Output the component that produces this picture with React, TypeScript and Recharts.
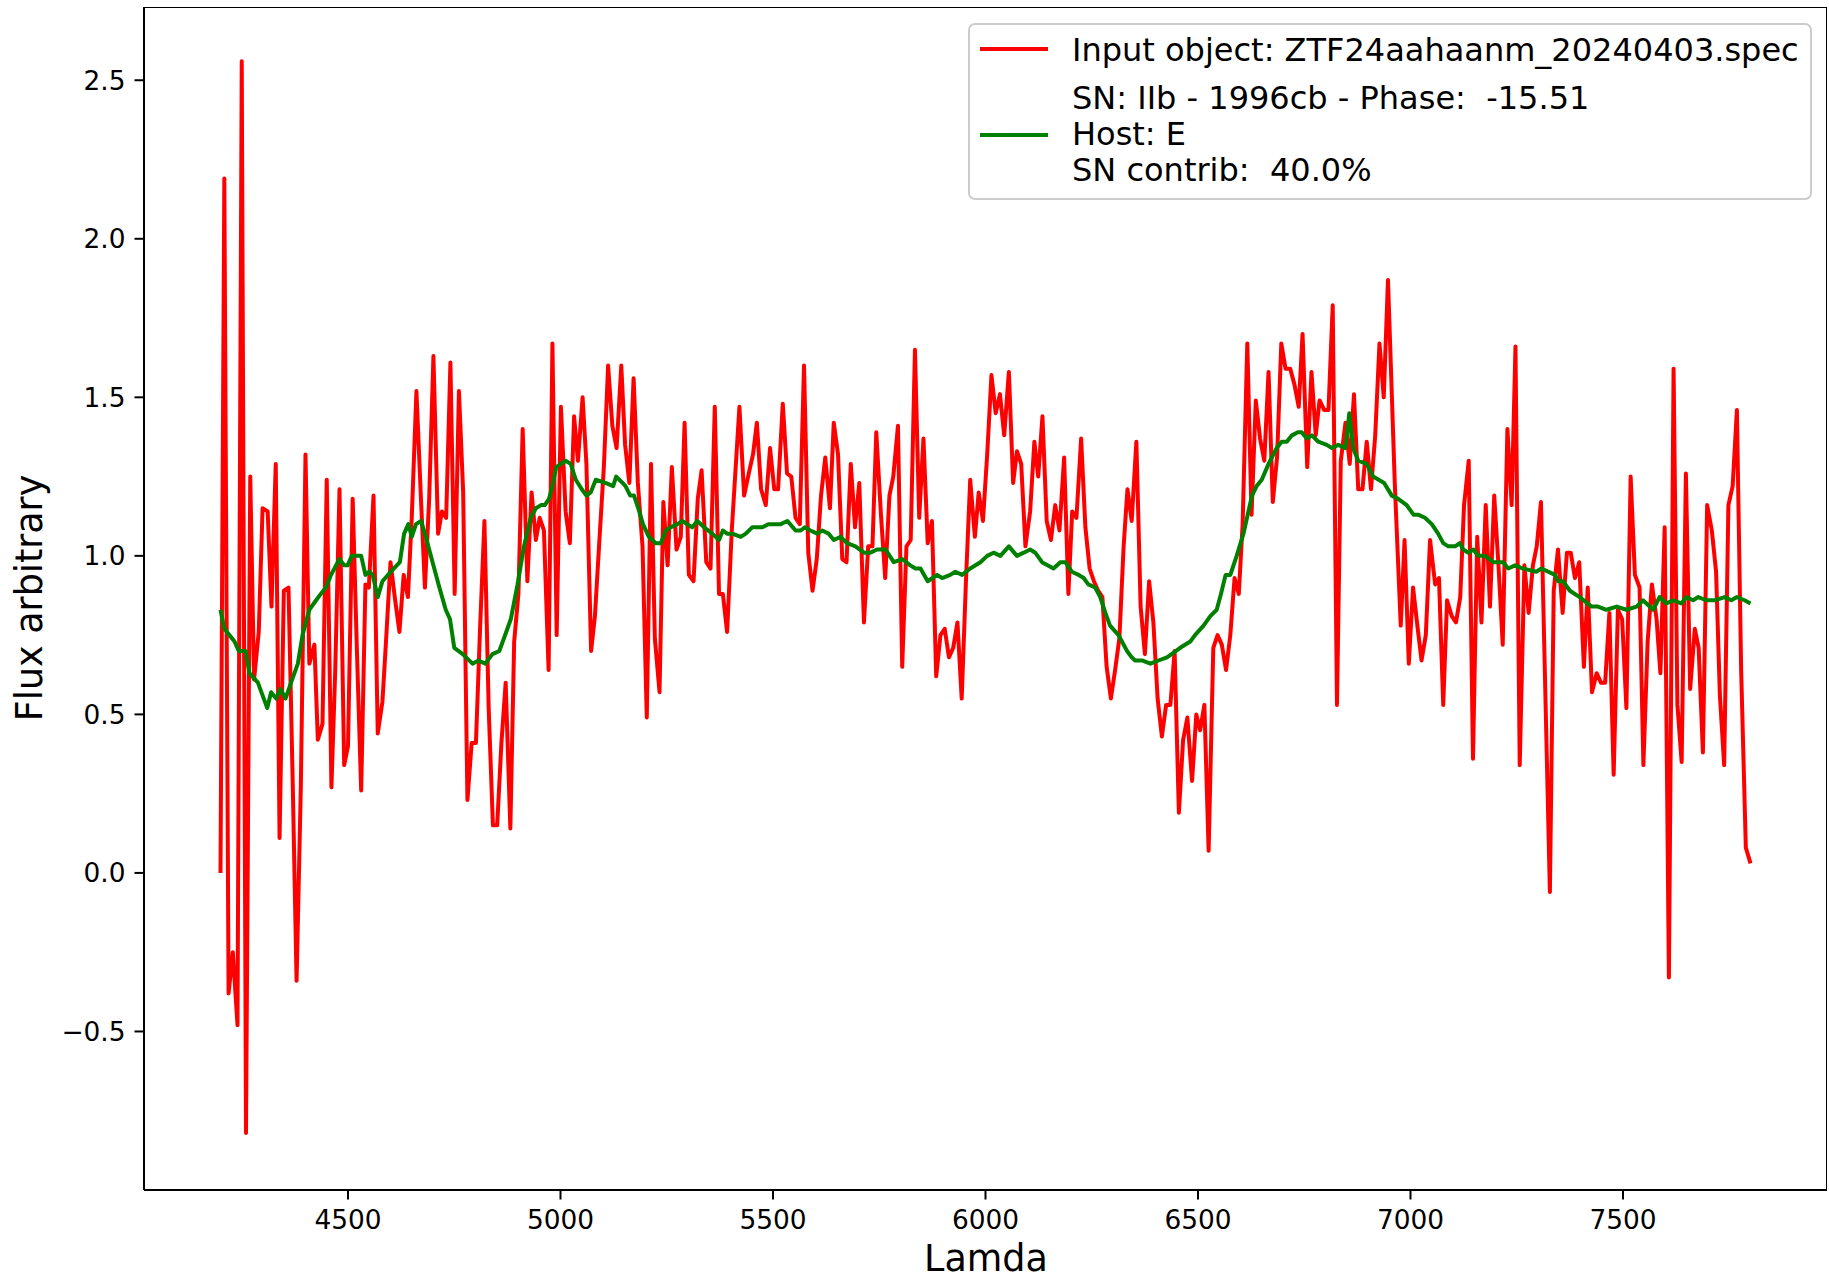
import React from 'react';
import { LineChart, Line, XAxis, YAxis, Legend, Label, ReferenceArea } from 'recharts';

// ---- data ----
const redWave = [
  4200, 4209, 4219, 4229, 4240, 4250, 4260, 4270, 4279, 4290, 4299, 4311, 4320, 4330, 4339, 4349, 4360, 4370, 4379, 4389,
  4400, 4409, 4421, 4429, 4440, 4450, 4461, 4470, 4480, 4491, 4500, 4511, 4521, 4531, 4541, 4549, 4560, 4570, 4581, 4589,
  4600, 4610, 4621, 4631, 4641, 4650, 4661, 4671, 4681, 4691, 4701, 4712, 4721, 4731, 4741, 4751, 4761, 4771, 4781, 4791,
  4801, 4811, 4821, 4831, 4841, 4851, 4861, 4871, 4882, 4891, 4901, 4911, 4922, 4932, 4942, 4951, 4961, 4972, 4981, 4991,
  5001, 5012, 5022, 5032, 5041, 5052, 5061, 5072, 5081, 5092, 5102, 5112, 5122, 5132, 5143, 5152, 5162, 5172, 5182, 5193,
  5203, 5213, 5222, 5233, 5242, 5252, 5262, 5273, 5283, 5292, 5302, 5313, 5323, 5332, 5343, 5353, 5363, 5373, 5382, 5392,
  5403, 5421, 5432, 5443, 5453, 5462, 5472, 5483, 5493, 5503, 5512, 5523, 5533, 5543, 5553, 5563, 5573, 5583, 5593, 5603,
  5613, 5623, 5634, 5643, 5653, 5663, 5673, 5683, 5693, 5703, 5714, 5724, 5734, 5743, 5754, 5764, 5774, 5783, 5794, 5804,
  5814, 5824, 5834, 5844, 5854, 5864, 5874, 5884, 5894, 5904, 5914, 5924, 5934, 5944, 5954, 5964, 5975, 5984, 5994, 6004,
  6014, 6024, 6034, 6044, 6055, 6065, 6074, 6084, 6094, 6105, 6115, 6124, 6134, 6144, 6154, 6164, 6174, 6185, 6195, 6204,
  6214, 6225, 6235, 6245, 6255, 6265, 6275, 6285, 6295, 6305, 6315, 6325, 6334, 6344, 6355, 6365, 6375, 6385, 6395, 6405,
  6415, 6425, 6435, 6445, 6455, 6465, 6475, 6486, 6496, 6505, 6515, 6525, 6536, 6546, 6556, 6566, 6576, 6586, 6596, 6605,
  6616, 6626, 6636, 6646, 6656, 6666, 6676, 6686, 6696, 6706, 6717, 6727, 6737, 6746, 6757, 6767, 6777, 6786, 6797, 6807,
  6817, 6827, 6836, 6847, 6857, 6867, 6877, 6887, 6897, 6907, 6917, 6927, 6937, 6947, 6963, 6977, 6986, 6996, 7006, 7017,
  7026, 7036, 7046, 7058, 7067, 7077, 7086, 7097, 7107, 7117, 7126, 7137, 7147, 7157, 7167, 7177, 7187, 7197, 7207, 7217,
  7228, 7238, 7247, 7257, 7268, 7278, 7288, 7297, 7307, 7328, 7337, 7347, 7358, 7368, 7377, 7387, 7397, 7408, 7417, 7427,
  7438, 7448, 7458, 7468, 7478, 7488, 7498, 7508, 7518, 7528, 7539, 7548, 7558, 7568, 7579, 7588, 7598, 7608, 7619, 7628,
  7638, 7648, 7658, 7669, 7678, 7688, 7698, 7709, 7719, 7728, 7738, 7748, 7758, 7768, 7778, 7789, 7800,
];
const redFlux = [
  0.0, 2.19, -0.38, -0.25, -0.48, 2.56, -0.82, 1.25, 0.61, 0.76, 1.15, 1.14, 0.84, 1.29, 0.11, 0.89, 0.9, 0.28, -0.34, 0.27,
  1.32, 0.66, 0.72, 0.42, 0.47, 1.24, 0.27, 0.64, 1.21, 0.34, 0.4, 1.18, 0.7, 0.26, 0.91, 0.9, 1.19, 0.44, 0.54, 0.72,
  0.98, 0.87, 0.76, 0.94, 0.87, 1.12, 1.52, 1.2, 0.9, 1.18, 1.63, 1.07, 1.14, 1.12, 1.61, 0.88, 1.52, 1.2, 0.23, 0.41,
  0.41, 0.78, 1.11, 0.52, 0.15, 0.15, 0.41, 0.6, 0.14, 0.73, 0.88, 1.4, 0.92, 1.2, 1.05, 1.12, 1.08, 0.64, 1.67, 0.75,
  1.47, 1.14, 1.04, 1.44, 1.3, 1.5, 1.29, 0.7, 0.81, 1.06, 1.28, 1.6, 1.41, 1.34, 1.6, 1.35, 1.23, 1.56, 1.23, 1.03,
  0.49, 1.29, 0.74, 0.57, 1.17, 0.97, 1.28, 1.02, 1.06, 1.42, 0.94, 0.92, 1.18, 1.27, 0.98, 0.96, 1.47, 0.88, 0.88, 0.76,
  1.08, 1.47, 1.19, 1.26, 1.32, 1.42, 1.21, 1.16, 1.34, 1.21, 1.21, 1.48, 1.26, 1.25, 1.12, 1.1, 1.6, 1.01, 0.89, 0.99,
  1.19, 1.31, 1.15, 1.42, 1.32, 0.99, 0.98, 1.29, 1.09, 1.23, 0.79, 1.03, 1.03, 1.39, 1.13, 0.93, 1.19, 1.25, 1.41, 0.65,
  1.03, 1.05, 1.65, 1.12, 1.37, 1.04, 1.11, 0.62, 0.75, 0.77, 0.68, 0.71, 0.79, 0.55, 0.92, 1.24, 1.06, 1.2, 1.11, 1.32,
  1.57, 1.45, 1.51, 1.38, 1.58, 1.23, 1.33, 1.29, 1.03, 1.14, 1.36, 1.25, 1.44, 1.11, 1.05, 1.16, 1.08, 1.31, 0.88, 1.14,
  1.12, 1.37, 1.09, 0.96, 0.92, 0.89, 0.87, 0.65, 0.55, 0.64, 0.74, 1.03, 1.21, 1.11, 1.36, 0.84, 0.69, 0.92, 0.79, 0.55,
  0.43, 0.53, 0.53, 0.7, 0.19, 0.42, 0.49, 0.29, 0.5, 0.45, 0.53, 0.07, 0.71, 0.75, 0.72, 0.64, 0.75, 0.93, 0.88, 1.1,
  1.67, 1.13, 1.49, 1.37, 1.3, 1.58, 1.17, 1.31, 1.67, 1.59, 1.59, 1.54, 1.47, 1.7, 1.28, 1.58, 1.38, 1.49, 1.46, 1.46,
  1.79, 0.53, 1.3, 1.42, 1.29, 1.51, 1.21, 1.21, 1.36, 1.21, 1.38, 1.67, 1.5, 1.87, 1.23, 0.78, 1.05, 0.66, 0.9, 0.77,
  0.67, 0.75, 1.05, 0.91, 0.93, 0.53, 0.86, 0.81, 0.79, 0.87, 1.16, 1.3, 0.36, 1.06, 0.79, 1.16, 0.84, 1.19, 0.97, 0.72,
  1.4, 1.16, 1.66, 0.34, 0.97, 0.82, 0.97, 1.03, 1.17, -0.06, 0.89, 1.02, 0.82, 1.01, 1.01, 0.93, 0.98, 0.65, 0.9, 0.57,
  0.63, 0.6, 0.6, 0.82, 0.31, 0.83, 0.8, 0.52, 1.25, 0.94, 0.9, 0.34, 0.73, 0.91, 0.8, 0.63, 1.09, -0.33, 1.59, 0.53,
  0.35, 1.26, 0.58, 0.77, 0.71, 0.38, 1.16, 1.08, 0.95, 0.56, 0.34, 1.16, 1.22, 1.46, 0.64, 0.08, 0.03,
];
const greenWave = [
  4200, 4209, 4221, 4233, 4243, 4259, 4268, 4288, 4299, 4310, 4319, 4331, 4341, 4353, 4366, 4382, 4393, 4409, 4425, 4436,
  4448, 4460, 4480, 4491, 4499, 4509, 4531, 4541, 4550, 4558, 4570, 4581, 4601, 4622, 4632, 4642, 4650, 4660, 4672, 4683,
  4699, 4715, 4730, 4740, 4750, 4770, 4793, 4807, 4823, 4840, 4856, 4867, 4883, 4899, 4914, 4930, 4942, 4954, 4963, 4973,
  4981, 4990, 5001, 5012, 5024, 5036, 5050, 5061, 5071, 5083, 5106, 5124, 5131, 5146, 5153, 5164, 5173, 5183, 5194, 5208,
  5224, 5236, 5248, 5259, 5275, 5287, 5298, 5310, 5322, 5338, 5357, 5373, 5382, 5392, 5404, 5424, 5436, 5451, 5463, 5475,
  5489, 5502, 5518, 5534, 5553, 5565, 5575, 5588, 5604, 5616, 5631, 5643, 5659, 5674, 5694, 5714, 5729, 5745, 5765, 5784,
  5804, 5823, 5835, 5847, 5864, 5886, 5898, 5917, 5929, 5945, 5964, 5988, 6004, 6019, 6035, 6055, 6074, 6090, 6105, 6117,
  6133, 6160, 6176, 6188, 6203, 6219, 6231, 6242, 6258, 6270, 6282, 6293, 6313, 6333, 6344, 6352, 6368, 6388, 6407, 6427,
  6438, 6458, 6482, 6493, 6513, 6529, 6544, 6554, 6565, 6576, 6591, 6607, 6627, 6638, 6650, 6666, 6685, 6697, 6709, 6721,
  6735, 6744, 6756, 6768, 6783, 6803, 6815, 6830, 6847, 6856, 6865, 6877, 6897, 6912, 6938, 6956, 6971, 6991, 7007, 7018,
  7034, 7050, 7065, 7077, 7089, 7105, 7116, 7124, 7136, 7148, 7159, 7175, 7195, 7218, 7230, 7246, 7265, 7296, 7308, 7340,
  7347, 7359, 7375, 7398, 7426, 7441, 7461, 7485, 7508, 7532, 7547, 7571, 7586, 7602, 7618, 7637, 7649, 7665, 7677, 7696,
  7716, 7739, 7755, 7768, 7786, 7800,
];
const greenFlux = [
  0.83, 0.77, 0.75, 0.73, 0.7, 0.7, 0.63, 0.6, 0.56, 0.52, 0.57, 0.55, 0.58, 0.55, 0.6, 0.66, 0.75, 0.83, 0.86, 0.88,
  0.9, 0.94, 0.99, 0.97, 0.97, 1.0, 1.0, 0.94, 0.95, 0.94, 0.87, 0.92, 0.95, 0.98, 1.07, 1.1, 1.06, 1.1, 1.11, 1.06,
  0.98, 0.9, 0.83, 0.8, 0.71, 0.69, 0.66, 0.67, 0.66, 0.69, 0.7, 0.74, 0.8, 0.91, 1.03, 1.12, 1.15, 1.16, 1.16, 1.18,
  1.22, 1.28, 1.29, 1.3, 1.29, 1.24, 1.21, 1.19, 1.2, 1.24, 1.23, 1.22, 1.25, 1.23, 1.22, 1.19, 1.19, 1.15, 1.1, 1.06,
  1.04, 1.04, 1.08, 1.09, 1.1, 1.11, 1.1, 1.09, 1.11, 1.09, 1.07, 1.05, 1.08, 1.07, 1.07, 1.06, 1.07, 1.09, 1.09, 1.09,
  1.1, 1.1, 1.1, 1.11, 1.08, 1.08, 1.09, 1.08, 1.07, 1.08, 1.07, 1.05, 1.06, 1.04, 1.03, 1.01, 1.01, 1.02, 1.02, 0.98,
  0.99, 0.97, 0.96, 0.96, 0.92, 0.94, 0.93, 0.94, 0.95, 0.94, 0.96, 0.98, 1.0, 1.01, 1.0, 1.03, 1.0, 1.01, 1.02, 1.01,
  0.98, 0.96, 0.98, 0.98, 0.95, 0.94, 0.93, 0.91, 0.9, 0.87, 0.82, 0.78, 0.75, 0.7, 0.68, 0.67, 0.67, 0.66, 0.67, 0.68,
  0.69, 0.71, 0.73, 0.75, 0.78, 0.81, 0.83, 0.88, 0.94, 0.94, 1.0, 1.07, 1.19, 1.22, 1.24, 1.29, 1.34, 1.36, 1.36, 1.38,
  1.39, 1.39, 1.37, 1.38, 1.36, 1.35, 1.34, 1.35, 1.34, 1.45, 1.34, 1.3, 1.29, 1.25, 1.23, 1.19, 1.18, 1.16, 1.13, 1.13,
  1.12, 1.1, 1.07, 1.04, 1.03, 1.03, 1.04, 1.02, 1.01, 1.02, 1.0, 1.0, 0.98, 0.98, 0.96, 0.97, 0.96, 0.95, 0.96, 0.94,
  0.92, 0.92, 0.89, 0.87, 0.84, 0.84, 0.83, 0.84, 0.83, 0.84, 0.86, 0.83, 0.87, 0.85, 0.86, 0.85, 0.87, 0.86, 0.87, 0.86,
  0.86, 0.87, 0.86, 0.87, 0.86, 0.85,
];

const xTicks = [4500, 5000, 5500, 6000, 6500, 7000, 7500];
const yTicks = [-0.5, 0, 0.5, 1, 1.5, 2, 2.5];
const xDomain = [4020, 7980];
const yDomain = [-1.0, 2.731];
const xLabelText = 'Lamda';
const yLabelText = 'Flux arbitrary';
const inputLabel = 'Input object: ZTF24aahaanm_20240403.spec';
const templateLabelLines = ['SN: IIb - 1996cb - Phase:  -15.51', 'Host: E', 'SN contrib:  40.0%'];

const redData = redWave.map((x, i) => ({ x, y: redFlux[i] }));
const greenData = greenWave.map((x, i) => ({ x, y: greenFlux[i] }));

const FONT = '"DejaVu Sans", sans-serif';
const W = 1829;
const H = 1279;

const fmtY = (v: number) => {
  const s = Math.abs(v).toFixed(1);
  return v < 0 ? '\u2212' + s : s;
};

const LegendBox = () => (
  <svg width={845} height={178} style={{ display: 'block', overflow: 'visible' }}>
    <rect x={1} y={1} width={842} height={175} rx={6} ry={6} fill="#ffffff" fillOpacity={0.8} stroke="#cccccc" strokeWidth={2} />
    <line x1={12} x2={80} y1={26} y2={26} stroke="#ff0000" strokeWidth={4} />
    <text x={104} y={38} fontSize={32} fontFamily={FONT} fill="#000" style={{ whiteSpace: 'pre' }}>
      {inputLabel}
    </text>
    <line x1={12} x2={80} y1={112} y2={112} stroke="#008000" strokeWidth={4} />
    {templateLabelLines.map((t, i) => (
      <text key={i} x={104} y={86 + i * 36} fontSize={32} fontFamily={FONT} fill="#000" style={{ whiteSpace: 'pre' }}>
        {t}
      </text>
    ))}
  </svg>
);

export default function App() {
  return (
    <div style={{ position: 'absolute', left: 0, top: 0, width: W, height: H, background: '#fff' }}>
      <LineChart width={W} height={H} margin={{ top: 7, right: 2, bottom: 0, left: 0 }}>
        <XAxis
          type="number"
          dataKey="x"
          domain={xDomain}
          ticks={xTicks}
          allowDataOverflow
          height={89}
          tickSize={9.5}
          tickMargin={11}
          axisLine={{ stroke: '#000', strokeWidth: 2 }}
          tickLine={{ stroke: '#000', strokeWidth: 2 }}
          tick={{ fill: '#000', fontSize: 26.4, fontFamily: FONT }}
          interval={0}
        >
          <Label
            content={() => (
              <text x={986} y={1271} textAnchor="middle" fontSize={36.5} fontFamily={FONT} fill="#000">
                {xLabelText}
              </text>
            )}
          />
        </XAxis>
        <YAxis
          type="number"
          domain={yDomain}
          ticks={yTicks}
          allowDataOverflow
          width={144}
          tickSize={9.5}
          tickMargin={9}
          tickFormatter={fmtY}
          axisLine={{ stroke: '#000', strokeWidth: 2 }}
          tickLine={{ stroke: '#000', strokeWidth: 2 }}
          tick={{ fill: '#000', fontSize: 26.4, fontFamily: FONT }}
          interval={0}
        >
          <Label
            content={() => (
              <text
                x={42}
                y={598}
                transform="rotate(-90, 42, 598)"
                textAnchor="middle"
                fontSize={36.5}
                fontFamily={FONT}
                fill="#000"
              >
                {yLabelText}
              </text>
            )}
          />
        </YAxis>
        <ReferenceArea
          x1={xDomain[0]}
          x2={xDomain[1]}
          y1={yDomain[0]}
          y2={yDomain[1]}
          fill="none"
          fillOpacity={0}
          stroke="#000"
          strokeWidth={2}
          ifOverflow="hidden"
        />
        <Line
          data={redData}
          dataKey="y"
          type="linear"
          stroke="#ff0000"
          strokeWidth={4}
          strokeLinejoin="round"
          dot={false}
          activeDot={false}
          isAnimationActive={false}
        />
        <Line
          data={greenData}
          dataKey="y"
          type="linear"
          stroke="#008000"
          strokeWidth={4}
          strokeLinejoin="round"
          dot={false}
          activeDot={false}
          isAnimationActive={false}
        />
        <Legend
          layout="vertical"
          align="center"
          verticalAlign="middle"
          wrapperStyle={{ position: 'absolute', left: 968, top: 23, width: 845, height: 178, margin: 0, padding: 0 }}
          content={() => <LegendBox />}
        />
      </LineChart>
    </div>
  );
}
